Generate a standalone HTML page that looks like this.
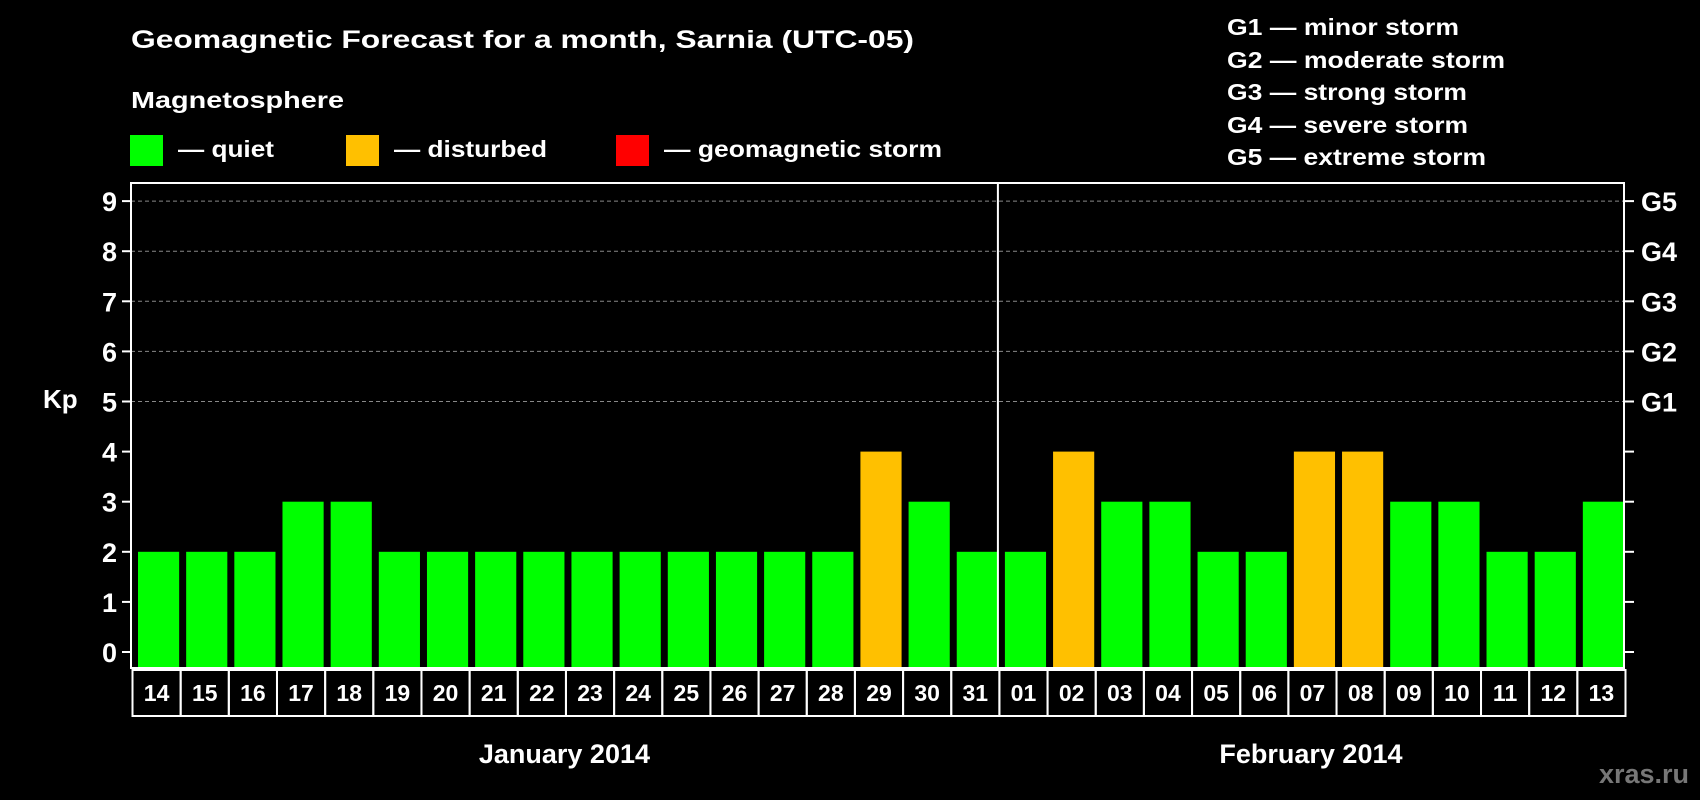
<!DOCTYPE html>
<html><head><meta charset="utf-8"><style>
html,body{margin:0;padding:0;background:#000;}
svg{display:block;font-family:"Liberation Sans",sans-serif;font-weight:bold;}
</style></head><body>
<svg id="chart" width="1700" height="800" viewBox="0 0 1700 800">
<rect x="0" y="0" width="1700" height="800" fill="#000"/>
<text x="131" y="48" font-size="25" fill="#fff" textLength="783" lengthAdjust="spacingAndGlyphs">Geomagnetic Forecast for a month, Sarnia (UTC-05)</text>
<text x="131" y="108" font-size="23" fill="#fff" textLength="213" lengthAdjust="spacingAndGlyphs">Magnetosphere</text>
<g>
<rect x="130" y="135" width="33" height="31" fill="#00ff00"/>
<text x="178" y="157" font-size="23" fill="#fff" textLength="96" lengthAdjust="spacingAndGlyphs">— quiet</text></g>
<g>
<rect x="346" y="135" width="33" height="31" fill="#ffc000"/>
<text x="394" y="157" font-size="23" fill="#fff" textLength="153" lengthAdjust="spacingAndGlyphs">— disturbed</text></g>
<g>
<rect x="616" y="135" width="33" height="31" fill="#ff0000"/>
<text x="664" y="157" font-size="23" fill="#fff" textLength="278" lengthAdjust="spacingAndGlyphs">— geomagnetic storm</text></g>
<g font-size="23" fill="#fff">
<text x="1227" y="35" textLength="232" lengthAdjust="spacingAndGlyphs">G1 — minor storm</text>
<text x="1227" y="68" textLength="278" lengthAdjust="spacingAndGlyphs">G2 — moderate storm</text>
<text x="1227" y="100" textLength="240" lengthAdjust="spacingAndGlyphs">G3 — strong storm</text>
<text x="1227" y="133" textLength="241" lengthAdjust="spacingAndGlyphs">G4 — severe storm</text>
<text x="1227" y="165" textLength="259" lengthAdjust="spacingAndGlyphs">G5 — extreme storm</text>
</g>
<text x="43" y="408" font-size="26" fill="#fff">Kp</text>
<text x="1689" y="783" font-size="27" fill="#777" text-anchor="end">xras.ru</text>
<g id="plot"></g>
</svg>
<script>
const days = ["14","15","16","17","18","19","20","21","22","23","24","25","26","27","28","29","30","31","01","02","03","04","05","06","07","08","09","10","11","12","13"];
const kpValues = [2,2,2,3,3,2,2,2,2,2,2,2,2,2,2,4,3,2,2,4,3,3,2,2,4,4,3,3,2,2,3];
const yTicks = [0,1,2,3,4,5,6,7,8,9];
const stormLabels = ["G1","G2","G3","G4","G5"];
const stormLevels = [5,6,7,8,9];
const months = ["January 2014","February 2014"];
const monthSplitIndex = 18;

const NS = "http://www.w3.org/2000/svg";
const g = document.getElementById("plot");
const L = 131, R = 1624, T = 183, B = 668;
const slot = (R - L) / days.length;
const y = v => 652 - v * 50.1;
const x = i => L + i * slot;
function mk(tag, attrs, parent) {
  const e = document.createElementNS(NS, tag);
  for (const k in attrs) e.setAttribute(k, attrs[k]);
  (parent || g).appendChild(e);
  return e;
}
// grid
yTicks.forEach(t => {
  if (t >= 5) {
    const ln = mk("line", {x1: L, x2: R, y1: y(t), y2: y(t), stroke: "#888", "stroke-width": 1, "stroke-dasharray": "4,3"});
    
    
  }
  const tk = mk("line", {x1: L - 9, x2: L, y1: y(t), y2: y(t), stroke: "#fff", "stroke-width": 2});
  
  
  const tk2 = mk("line", {x1: R, x2: R + 10, y1: y(t), y2: y(t), stroke: "#fff", "stroke-width": 2});
  
  
  const lb = mk("text", {x: 117, y: y(t) + 10, "font-size": 27, fill: "#fff", "text-anchor": "end"});
  lb.textContent = t;
  
  
});
stormLabels.forEach((s, i) => {
  const lb = mk("text", {x: 1641, y: y(stormLevels[i]) + 10, "font-size": 27, fill: "#fff"});
  lb.textContent = s;
  
  
});
// bars
kpValues.forEach((v, i) => {
  const b = mk("rect", {x: x(i) + 7, y: y(v), width: slot - 6 - 1, height: B - y(v), fill: v >= 5 ? "#ff0000" : (v >= 4 ? "#ffc000" : "#00ff00")});
  
  
  const box = mk("rect", {x: x(i) - 6 + 7 + 0.5, y: B + 2, width: slot, height: 46, fill: "none", stroke: "#fff", "stroke-width": 2});
  
  
  const t = mk("text", {x: x(i) + 1 + slot / 2 + 0.5, y: B + 33, "font-size": 23, fill: "#fff", "text-anchor": "middle"});
  t.textContent = days[i];
  
  
});
// frame
const fr = mk("rect", {x: L, y: T, width: R - L, height: B - T, fill: "none", stroke: "#fff", "stroke-width": 2});


const dv = mk("line", {x1: x(monthSplitIndex), x2: x(monthSplitIndex), y1: T, y2: B, stroke: "#fff", "stroke-width": 2});


const m1 = mk("text", {x: (L + x(monthSplitIndex)) / 2, y: 763, "font-size": 27, fill: "#fff", "text-anchor": "middle"});
m1.textContent = months[0];


const m2 = mk("text", {x: (x(monthSplitIndex) + R) / 2, y: 763, "font-size": 27, fill: "#fff", "text-anchor": "middle"});
m2.textContent = months[1];


</script>
</body></html>
